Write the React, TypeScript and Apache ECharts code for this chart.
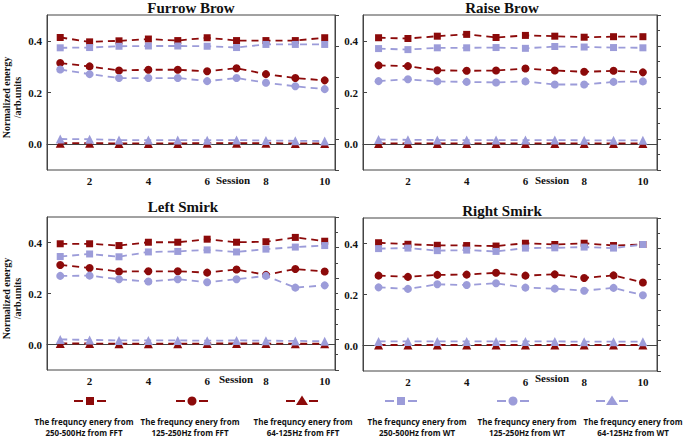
import React, { useEffect, useRef } from "react";
import * as echarts from "echarts";

// ---------- data ----------
const sessions = [1, 2, 3, 4, 5, 6, 7, 8, 9, 10];
const panelTitles = ["Furrow Brow", "Raise Brow", "Left Smirk", "Right Smirk"];
const xTickValues = [2, 4, 6, 8, 10];
const yTickValues = [0, 0.2, 0.4];
const yAxisTitle = "Normalized energy\n/arb.units";
const xAxisTitle = "Session";

// Furrow Brow
const furrowFft500 = [0.413, 0.396, 0.4, 0.407, 0.401, 0.412, 0.401, 0.401, 0.401, 0.412];
const furrowFft250 = [0.314, 0.301, 0.285, 0.288, 0.288, 0.282, 0.294, 0.271, 0.256, 0.247];
const furrowFft125 = [0.004, 0.004, 0.003, 0.003, 0.003, 0.004, 0.004, 0.004, 0.003, 0.003];
const furrowWt500 = [0.373, 0.374, 0.379, 0.38, 0.38, 0.379, 0.374, 0.386, 0.386, 0.386];
const furrowWt250 = [0.289, 0.271, 0.256, 0.256, 0.256, 0.244, 0.256, 0.238, 0.224, 0.213];
const furrowWt125 = [0.02, 0.019, 0.016, 0.016, 0.016, 0.015, 0.016, 0.014, 0.013, 0.012];

// Raise Brow
const raiseFft500 = [0.412, 0.409, 0.418, 0.425, 0.413, 0.421, 0.418, 0.414, 0.416, 0.416];
const raiseFft250 = [0.305, 0.302, 0.286, 0.284, 0.285, 0.293, 0.285, 0.28, 0.284, 0.278];
const raiseFft125 = [0.003, 0.003, 0.003, 0.003, 0.003, 0.003, 0.003, 0.003, 0.003, 0.003];
const raiseWt500 = [0.37, 0.366, 0.373, 0.373, 0.374, 0.371, 0.378, 0.376, 0.374, 0.373];
const raiseWt250 = [0.244, 0.251, 0.243, 0.241, 0.239, 0.243, 0.231, 0.231, 0.241, 0.243];
const raiseWt125 = [0.018, 0.017, 0.016, 0.016, 0.016, 0.016, 0.016, 0.015, 0.015, 0.015];

// Left Smirk
const leftFft500 = [0.395, 0.395, 0.388, 0.401, 0.401, 0.413, 0.401, 0.403, 0.42, 0.405];
const leftFft250 = [0.312, 0.3, 0.286, 0.287, 0.287, 0.282, 0.294, 0.273, 0.296, 0.286];
const leftFft125 = [0.004, 0.004, 0.003, 0.003, 0.003, 0.004, 0.004, 0.004, 0.003, 0.003];
const leftWt500 = [0.345, 0.355, 0.344, 0.363, 0.365, 0.371, 0.363, 0.374, 0.382, 0.388];
const leftWt250 = [0.269, 0.27, 0.256, 0.247, 0.256, 0.244, 0.256, 0.269, 0.223, 0.232];
const leftWt125 = [0.02, 0.018, 0.016, 0.016, 0.016, 0.015, 0.016, 0.015, 0.014, 0.013];

// Right Smirk
const rightFft500 = [0.403, 0.397, 0.393, 0.392, 0.39, 0.401, 0.396, 0.401, 0.392, 0.396];
const rightFft250 = [0.274, 0.269, 0.277, 0.278, 0.285, 0.274, 0.279, 0.265, 0.275, 0.247];
const rightFft125 = [0.002, 0.002, 0.002, 0.002, 0.002, 0.002, 0.002, 0.002, 0.002, 0.002];
const rightWt500 = [0.38, 0.382, 0.372, 0.374, 0.369, 0.382, 0.383, 0.386, 0.382, 0.396];
const rightWt250 = [0.228, 0.222, 0.24, 0.237, 0.244, 0.227, 0.223, 0.215, 0.226, 0.197];
const rightWt125 = [0.016, 0.016, 0.016, 0.016, 0.016, 0.016, 0.016, 0.015, 0.015, 0.015];

const panelData = [
  [furrowFft500, furrowFft250, furrowFft125, furrowWt500, furrowWt250, furrowWt125],
  [raiseFft500, raiseFft250, raiseFft125, raiseWt500, raiseWt250, raiseWt125],
  [leftFft500, leftFft250, leftFft125, leftWt500, leftWt250, leftWt125],
  [rightFft500, rightFft250, rightFft125, rightWt500, rightWt250, rightWt125],
];

const seriesLine1 = "The frequncy enery from";
const seriesLine2 = [
  "250-500Hz from FFT",
  "125-250Hz from FFT",
  "64-125Hz from FFT",
  "250-500Hz from WT",
  "125-250Hz from WT",
  "64-125Hz from WT",
];

// ---------- styles ----------
const RED = "#8c0a0a";
const PURPLE = "#9c9cd9";
const seriesColors = [RED, RED, RED, PURPLE, PURPLE, PURPLE];
const seriesSymbols = ["rect", "circle", "triangle", "rect", "circle", "triangle"];
const seriesSymbolSizes = [7, 8, 9, 7, 8, 9];
const SERIF = "'Liberation Serif', 'Times New Roman', serif";
const AXIS = "#444";

const grids = [
  { left: 46, top: 15, width: 289, height: 155 },
  { left: 363, top: 15, width: 294, height: 155 },
  { left: 46, top: 217, width: 289, height: 153 },
  { left: 363, top: 218, width: 294, height: 153 },
];
const xRanges = [
  [0.55, 10.35],
  [0.47, 10.48],
  [0.55, 10.35],
  [0.47, 10.48],
];
const titlePos = [
  [191, 0],
  [502, 0],
  [183, 199],
  [502, 203],
];
const sessionPos = [
  [233, 180],
  [552, 180],
  [236, 379],
  [552, 378],
];
const legendIconX = [90, 192, 302, 401, 513, 612];
const legendTextX = [84, 190, 303, 417, 527, 633];

export default function App() {
  const ref = useRef<HTMLDivElement>(null);
  useEffect(() => {
    if (!ref.current) return;
    const chart = echarts.init(ref.current, undefined, { renderer: "svg" });

    const xAxis: any[] = [];
    const yAxis: any[] = [];
    const series: any[] = [];
    const title: any[] = [];
    const graphic: any[] = [];

    grids.forEach((g, i) => {
      title.push({
        text: panelTitles[i],
        left: titlePos[i][0],
        top: titlePos[i][1],
        padding: 0,
        textAlign: "center",
        textStyle: { fontFamily: SERIF, fontWeight: "bold", fontSize: 15, color: "#111" },
      });
      xAxis.push({
        type: "value",
        gridIndex: i,
        min: xRanges[i][0],
        max: xRanges[i][1],
        axisLine: { show: true, lineStyle: { color: AXIS, width: 1 } },
        axisTick: { show: true, inside: true, length: 4, customValues: xTickValues, lineStyle: { color: AXIS } },
        axisLabel: {
          customValues: xTickValues,
          fontFamily: SERIF,
          fontWeight: "bold",
          fontSize: 11,
          color: "#111",
          margin: 5,
        },
        splitLine: { show: false },
      });
      const isLeft = i % 2 === 0;
      yAxis.push({
        type: "value",
        gridIndex: i,
        position: "left",
        min: -0.1,
        max: 0.5,
        name: isLeft ? yAxisTitle : "",
        nameLocation: "middle",
        nameGap: 24,
        nameTextStyle: {
          fontFamily: SERIF,
          fontWeight: "bold",
          fontSize: 10,
          color: "#111",
          lineHeight: 11,
          padding: [0, 10, 0, 0],
        },
        axisLine: { show: true, lineStyle: { color: AXIS, width: 1 } },
        axisTick: { show: true, inside: true, length: 4, customValues: yTickValues, lineStyle: { color: AXIS } },
        axisLabel: {
          customValues: yTickValues,
          formatter: (v: number) => v.toFixed(1),
          fontFamily: SERIF,
          fontWeight: "bold",
          fontSize: 11,
          color: "#111",
          margin: 5,
        },
        splitLine: { show: false },
      });
      yAxis.push({
        type: "value",
        gridIndex: i,
        position: "right",
        min: 0,
        max: 5,
        interval: 1,
        axisLine: { show: true, lineStyle: { color: AXIS, width: 1 } },
        axisTick: { show: true, inside: false, length: 4, lineStyle: { color: AXIS } },
        minorTick: { show: i !== 0, splitNumber: 2, length: 3, lineStyle: { color: AXIS } },
        axisLabel: { show: false },
        splitLine: { show: false },
      });
      panelData[i].forEach((vals, j) => {
        series.push({
          type: "line",
          name: seriesLine2[j],
          xAxisIndex: i,
          yAxisIndex: i * 2,
          data: sessions.map((s, k) => [s, vals[k]]),
          symbol: seriesSymbols[j],
          symbolSize: seriesSymbolSizes[j],
          showAllSymbol: true,
          lineStyle: { color: seriesColors[j], width: 1.8, type: [7, 5] },
          itemStyle: { color: seriesColors[j] },
          z: j < 3 ? 2 : 3,
        });
      });
      graphic.push({
        type: "text",
        x: sessionPos[i][0],
        y: sessionPos[i][1],
        style: {
          text: xAxisTitle,
          fontFamily: SERIF,
          fontWeight: "bold",
          fontSize: 11,
          fill: "#111",
          textAlign: "center",
          textVerticalAlign: "middle",
        },
      });
    });

    // legend drawn as graphic elements
    seriesLine2.forEach((label, j) => {
      const cx = legendIconX[j];
      const cy = 401;
      const color = seriesColors[j];
      graphic.push({
        type: "line",
        shape: { x1: cx - 16, y1: cy, x2: cx - 7, y2: cy },
        style: { stroke: color, lineWidth: 2 },
      });
      graphic.push({
        type: "line",
        shape: { x1: cx + 7, y1: cy, x2: cx + 16, y2: cy },
        style: { stroke: color, lineWidth: 2 },
      });
      if (seriesSymbols[j] === "rect") {
        graphic.push({ type: "rect", shape: { x: cx - 4, y: cy - 4, width: 8, height: 8 }, style: { fill: color } });
      } else if (seriesSymbols[j] === "circle") {
        graphic.push({ type: "circle", shape: { cx, cy, r: 4.5 }, style: { fill: color } });
      } else {
        graphic.push({
          type: "polygon",
          shape: { points: [[cx, cy - 5.5], [cx - 6, cy + 4], [cx + 6, cy + 4]] },
          style: { fill: color },
        });
      }
      graphic.push({
        type: "text",
        x: legendTextX[j],
        y: 427,
        style: {
          text: seriesLine1 + "\n" + label,
          fontFamily: "'Open Sans', 'Noto Sans', sans-serif",
          fontWeight: "bold",
          fontSize: 8,
          lineHeight: 11.5,
          fill: "#111",
          textAlign: "center",
          textVerticalAlign: "middle",
        },
      });
    });

    chart.setOption({
      animation: false,
      backgroundColor: "#fff",
      title,
      grid: grids.map((g) => ({ ...g, show: true, borderColor: AXIS, borderWidth: 1, backgroundColor: "transparent" })),
      xAxis,
      yAxis,
      series,
      graphic,
    });
    return () => chart.dispose();
  }, []);
  return (
    <div
      ref={ref}
      style={{ position: "fixed", left: 0, top: 0, width: 685, height: 438 }}
    />
  );
}
